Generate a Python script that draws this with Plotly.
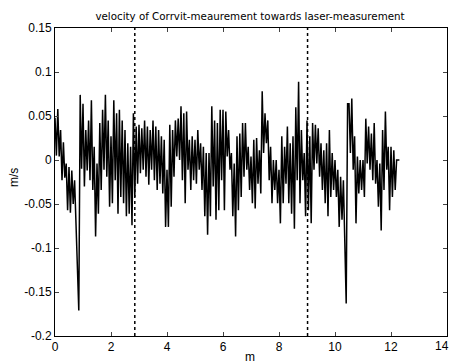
import numpy as np
import plotly.graph_objects as go

velocity = [
    0.048, 0.005, 0.058, 0.004, 0.034, -0.023, 0.020, -0.020, -0.004, -0.057,
    -0.008, -0.060, -0.012, -0.050, -0.023, -0.076, -0.102, -0.171, 0.074, -0.010,
    0.064, -0.030, 0.034, -0.012, 0.045, -0.023, 0.068, -0.034, 0.015, -0.087,
    -0.004, -0.061, 0.042, -0.034, 0.057, -0.011, 0.074, -0.019, 0.045, -0.053,
    0.027, -0.049, 0.068, -0.023, 0.053, -0.061, 0.057, -0.042, 0.045, -0.049,
    0.034, -0.064, 0.019, -0.061, 0.015, -0.074, 0.053, -0.042, 0.038, -0.027,
    0.040, -0.015, 0.036, -0.011, 0.045, -0.019, 0.038, -0.028, 0.034, -0.011,
    0.045, -0.023, 0.038, -0.034, 0.034, -0.027, 0.027, -0.038, 0.023, -0.076,
    -0.011, -0.076, 0.040, -0.053, 0.034, -0.019, 0.045, 0.004, 0.047, 0.000,
    0.061, -0.023, 0.053, -0.049, 0.055, -0.011, 0.023, -0.034, 0.027, -0.023,
    0.023, -0.027, 0.034, -0.011, 0.019, -0.034, 0.015, -0.064, 0.008, -0.085,
    0.008, -0.064, 0.061, -0.030, 0.045, -0.068, 0.042, -0.057, 0.057, -0.023,
    0.057, -0.057, 0.055, 0.004, 0.034, -0.011, 0.008, -0.064, -0.004, -0.087,
    0.027, -0.057, 0.030, -0.042, 0.042, -0.019, 0.042, -0.011, 0.015, -0.034,
    0.004, -0.049, 0.023, -0.055, 0.025, -0.027, 0.011, -0.038, 0.078, 0.008,
    0.053, 0.019, 0.045, -0.023, 0.015, -0.049, 0.000, -0.034, 0.000, -0.049,
    -0.011, -0.072, 0.027, -0.049, 0.015, -0.027, 0.038, -0.049, 0.019, -0.061,
    0.027, -0.078, 0.060, -0.023, 0.089, -0.049, 0.034, -0.023, 0.008, -0.064,
    0.045, -0.057, 0.027, -0.072, 0.042, -0.011, 0.040, -0.004, 0.036, -0.019,
    0.019, -0.034, 0.011, -0.049, 0.019, -0.064, 0.034, -0.042, 0.008, -0.034,
    0.000, -0.042, -0.011, -0.076, -0.019, -0.068, -0.023, -0.080, -0.163, 0.064,
    0.064, 0.008, 0.070, -0.011, 0.027, -0.072, 0.004, -0.038, 0.000, -0.034,
    0.000, -0.042, 0.047, -0.004, 0.038, -0.011, 0.030, -0.023, 0.042, -0.027,
    0.000, -0.053, -0.004, -0.080, 0.034, -0.034, 0.055, -0.011, 0.015, -0.057,
    0.015, -0.042, 0.011, -0.034, 0.000, 0.000, 0.000,
]
sample_step_m = 0.05
distance = np.arange(len(velocity)) * sample_step_m

marker_positions = [2.85, 9.02]
y_range = [-0.2, 0.15]

x_ticks = [0, 2, 4, 6, 8, 10, 12, 14]
x_tick_labels = ["0", "2", "4", "6", "8", "10", "12", "14"]
y_ticks = [0.15, 0.1, 0.05, 0, -0.05, -0.1, -0.15, -0.2]
y_tick_labels = ["0.15", "0.1", "0.05", "0", "-0.05", "-0.1", "-0.15", "-0.2"]

W, H = 451, 364
L, R, T, B = 55, 4, 28, 28

fig = go.Figure()
fig.add_trace(go.Scatter(x=distance, y=velocity, mode="lines",
                         line=dict(color="black", width=1.5), showlegend=False))
for xm in marker_positions:
    fig.add_trace(go.Scatter(x=[xm, xm], y=y_range, mode="lines",
                             line=dict(color="black", width=1.5, dash="dot"),
                             showlegend=False))

font = dict(family="Liberation Sans, Arial, sans-serif", size=12, color="black")
fig.update_layout(
    width=W, height=H,
    margin=dict(l=L, r=R, t=T, b=B, autoexpand=False),
    paper_bgcolor="white", plot_bgcolor="white",
    font=font,
    title=dict(text="velocity of Corrvit-meaurement towards laser-measurement",
               x=250 / W, xanchor="center", xref="container",
               y=1 - 16 / H, yanchor="middle", yref="container",
               font=dict(family="DejaVu Sans, sans-serif", size=10.3)),
    annotations=[
        dict(text="m", xref="paper", yref="paper",
             x=(250 - L) / (W - L - R), y=-(357 - (H - B)) / (H - T - B),
             xanchor="center", yanchor="middle", showarrow=False,
             font=dict(size=12)),
        dict(text="m/s", xref="paper", yref="paper", textangle=-90,
             x=-(L - 14) / (W - L - R), y=((H - B) - 178) / (H - T - B),
             xanchor="center", yanchor="middle", showarrow=False,
             font=dict(size=12)),
        # last x tick label, which the reference shows at the right edge
        dict(text=x_tick_labels[-1], xref="paper", yref="paper",
             x=(W - L) / (W - L - R), y=-(346 - (H - B)) / (H - T - B),
             xanchor="right", yanchor="middle", showarrow=False,
             font=dict(size=12)),
    ],
)
fig.update_xaxes(range=[0, 14], tickvals=x_ticks[:-1], ticktext=x_tick_labels[:-1],
                 ticks="inside", ticklen=4,
                 showline=True, linecolor="black", linewidth=1, mirror="ticks",
                 showgrid=False, zeroline=False, automargin=False)
fig.update_yaxes(range=y_range, tickvals=y_ticks, ticktext=y_tick_labels,
                 ticks="inside", ticklen=4,
                 showline=True, linecolor="black", linewidth=1, mirror="ticks",
                 showgrid=False, zeroline=False, automargin=False)
fig.write_html(
    "out.html",
    config={"displayModeBar": False},
    post_script="document.body.style.margin='0';document.body.style.overflow='hidden';",
)
